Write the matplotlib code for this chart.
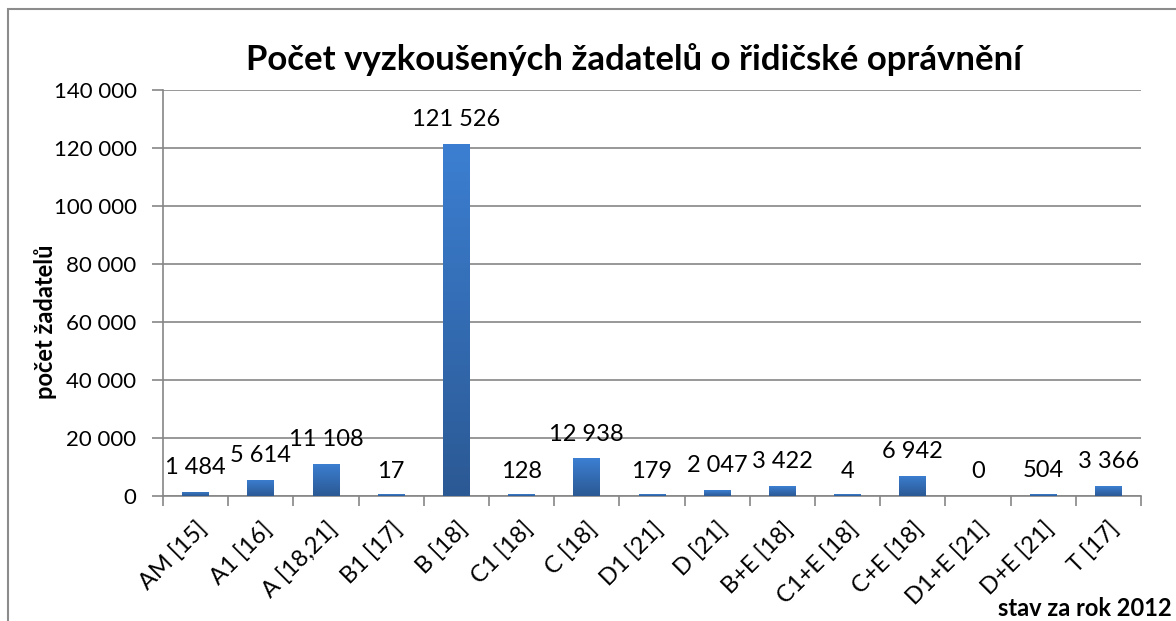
import matplotlib.pyplot as plt
import numpy as np
from matplotlib.patches import Rectangle
from matplotlib.colors import LinearSegmentedColormap

kategorie = ['AM [15]', 'A1 [16]', 'A [18,21]', 'B1 [17]', 'B [18]', 'C1 [18]', 'C [18]',
             'D1 [21]', 'D [21]', 'B+E [18]', 'C1+E [18]', 'C+E [18]', 'D1+E [21]',
             'D+E [21]', 'T [17]']
pocty = [1484, 5614, 11108, 17, 121526, 128, 12938, 179, 2047, 3422, 4, 6942, 0, 504, 3366]
y_ticks = [0, 20000, 40000, 60000, 80000, 100000, 120000, 140000]

plt.rcParams['font.family'] = ['Lato', 'DejaVu Sans']


def fmt(v):
    return f'{v:,}'.replace(',', ' ')


fig = plt.figure(figsize=(11.76, 6.21), dpi=100)
ax = fig.add_axes([163 / 1176, 1 - 496 / 621, (1141 - 163) / 1176, (496 - 90) / 621])

# ramecek kolem grafu
fig.patches.append(Rectangle((8 / 1176, -0.05), 1.2, 1 - 9 / 621 + 0.05, transform=fig.transFigure,
                             fill=False, edgecolor='#8c8c8c', linewidth=1.5, zorder=0))

x = np.arange(len(kategorie))
bars = ax.bar(x, pocty, width=0.41, color='none', zorder=3)
cmap = LinearSegmentedColormap.from_list('g', ['#2b5994', '#3c7fd2'])
grad = np.linspace(0, 1, 256).reshape(-1, 1)
for b in bars:
    h = b.get_height()
    if h <= 0:
        continue
    x0 = b.get_x()
    w = b.get_width()
    h_vis = max(h, 600)
    im = ax.imshow(grad, extent=(x0, x0 + w, 0, h_vis), origin='lower', cmap=cmap,
                   aspect='auto', zorder=3)
    clip = Rectangle((x0, 0), w, h_vis, transform=ax.transData, facecolor='none', edgecolor='none')
    ax.add_patch(clip)
    im.set_clip_path(clip)

for xi, v in zip(x, pocty):
    ax.annotate(fmt(v), (xi, v), xytext=(0, 10), textcoords='offset points',
                ha='center', va='bottom', fontsize=17, color='black')

ax.set_xlim(-0.5, len(kategorie) - 0.5)
ax.set_ylim(0, 140000)
ax.set_yticks(y_ticks)
ax.set_yticklabels([fmt(t) for t in y_ticks], fontsize=16)
ax.set_xticks(x)
ax.set_xticklabels(kategorie, rotation=45, ha='right', rotation_mode='anchor', fontsize=17)
ax.set_xticks(np.arange(-0.5, len(kategorie)), minor=True)
ax.tick_params(axis='x', which='major', length=0, pad=16)
ax.tick_params(axis='x', which='minor', length=7, color='#868686', width=1.2)
ax.tick_params(axis='y', length=8, color='#868686', width=1.2, pad=11)

ax.grid(axis='y', color='#868686', linewidth=1.2, zorder=0)
ax.set_axisbelow(True)
for s in ['top', 'right']:
    ax.spines[s].set_visible(False)
for s in ['left', 'bottom']:
    ax.spines[s].set_color('#868686')
    ax.spines[s].set_linewidth(1.2)

ax.set_ylabel('počet žadatelů', fontsize=17, fontweight='bold')
ax.yaxis.set_label_coords(-0.108, 0.43)
fig.text(0.539, 1 - 60 / 621, 'Počet vyzkoušených žadatelů o řidičské oprávnění',
         ha='center', va='center', fontsize=25, fontweight='bold')
fig.text(1172 / 1176, 1 - 609 / 621, 'stav za rok 2012', ha='right', va='center',
         fontsize=17, fontweight='bold')

fig.savefig('out.png', dpi=100)
